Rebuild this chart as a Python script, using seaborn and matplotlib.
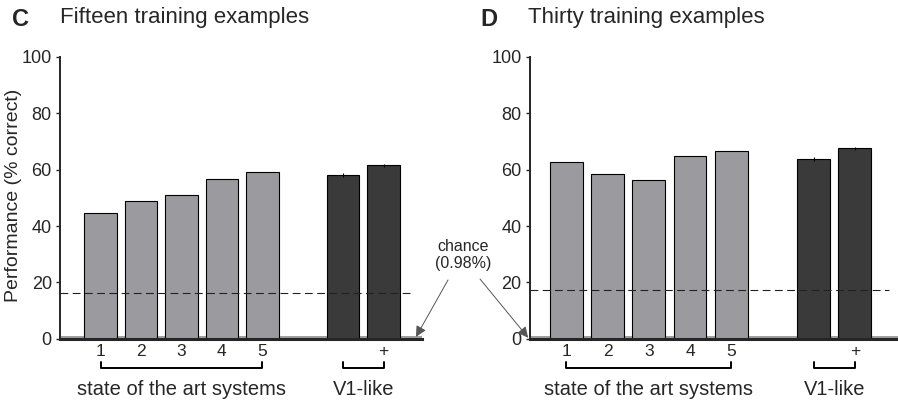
import matplotlib
matplotlib.use("Agg")
import matplotlib.pyplot as plt
import numpy as np
import pandas as pd
import seaborn as sns

sns.set_style("white")
plt.rcParams["font.family"] = ["Liberation Sans", "DejaVu Sans"]

# data
systems = ["1", "2", "3", "4", "5", "gap", "V1", "V1+"]
tick_labels = ["1", "2", "3", "4", "5", "", "", "+"]
fifteen = [44.6, 49.0, 51.1, 56.6, 59.3, np.nan, 58.2, 61.6]
thirty = [62.7, 58.3, 56.2, 64.8, 66.5, np.nan, 63.8, 67.6]
v1_err_15 = [0.7, 0.6]
v1_err_30 = [0.6, 0.6]
chance_line = [16.2, 17.3]
chance_level = 0.98

light, dark = "#9b9b9f", "#3a3a3a"
palette = {s: (dark if s.startswith("V1") else light) for s in systems}

fig = plt.figure(figsize=(8.98, 4.01), dpi=100)
ax1 = fig.add_axes([0.067, 0.155, 0.403, 0.703])
ax2 = fig.add_axes([0.590, 0.155, 0.410, 0.703])

panels = [
    (ax1, fifteen, v1_err_15, chance_line[0], (-1.0, 7.95)),
    (ax2, thirty, v1_err_30, chance_line[1], (-0.89, 8.05)),
]

for ax, vals, errs, cl, xl in panels:
    df = pd.DataFrame({"system": systems, "perf": vals})
    ax.axhspan(0, chance_level, color="#a0a0a0", zorder=0, lw=0)
    sns.barplot(data=df, x="system", y="perf", hue="system", palette=palette,
                order=systems, width=0.8, edgecolor="black", linewidth=0.8,
                legend=False, ax=ax, zorder=2)
    ax.errorbar([6, 7], [vals[6], vals[7]], yerr=errs, fmt="none",
                ecolor="black", elinewidth=0.8, capsize=0, zorder=3)
    ax.axhline(cl, xmin=0.0, xmax=0.975, color="#222222", lw=0.8,
               dashes=(7, 4), zorder=3)
    ax.set_xlim(*xl)
    ax.set_ylim(0, 100)
    ax.set_yticks([0, 20, 40, 60, 80, 100])
    ax.tick_params(axis="y", labelsize=13, length=3, width=1, direction="out",
                   left=True, pad=3)
    ax.set_xticks(range(len(systems)))
    ax.set_xticklabels(tick_labels, fontsize=12.5)
    ax.tick_params(axis="x", length=0, pad=4)
    ax.set_xlabel("")
    ax.set_ylabel("")
    sns.despine(ax=ax)
    ax.spines["left"].set_linewidth(1.4)
    ax.spines["bottom"].set_linewidth(2.2)
    ax.spines["left"].set_bounds(0, 100)

    # group brackets under the tick labels
    tr = ax.get_xaxis_transform()
    for x0, x1 in [(0, 4), (6, 7)]:
        ax.plot([x0, x0, x1, x1], [-0.082, -0.103, -0.103, -0.082], color="black",
                lw=1.4, transform=tr, clip_on=False)
    ax.text(2, -0.178, "state of the art systems", transform=tr, ha="center",
            va="center", fontsize=14.5)
    ax.text(6.5, -0.178, "V1-like", transform=tr, ha="center", va="center",
            fontsize=14.5)

# panel letters and titles
fig.text(12 / 898, 1 - 19 / 401, "C", fontsize=17, fontweight="bold",
         ha="left", va="center")
fig.text(60 / 898, 1 - 17 / 401, "Fifteen training examples", fontsize=16,
         ha="left", va="center")
fig.text(480 / 898, 1 - 19 / 401, "D", fontsize=17, fontweight="bold",
         ha="left", va="center")
fig.text(528 / 898, 1 - 17 / 401, "Thirty training examples", fontsize=16,
         ha="left", va="center")

ax1.set_ylabel("Performance (% correct)", fontsize=14)
ax1.yaxis.set_label_coords(-0.105, 0.51)

fig.text(463 / 898, 1 - 255 / 401, "chance\n(0.98%)", ha="center", va="center",
         fontsize=11.5, linespacing=1.1)
arrow = dict(arrowstyle="-|>", color="#555555", lw=0.7, mutation_scale=16,
             shrinkA=0, shrinkB=0)
ax1.annotate("", xy=(7.8, 0.7), xytext=(448 / 898, 1 - 280 / 401),
             textcoords="figure fraction", arrowprops=arrow, annotation_clip=False)
ax2.annotate("", xy=(-0.93, 0.4), xytext=(480 / 898, 1 - 279 / 401),
             textcoords="figure fraction", arrowprops=arrow, annotation_clip=False)

fig.savefig("out.png", dpi=100)
